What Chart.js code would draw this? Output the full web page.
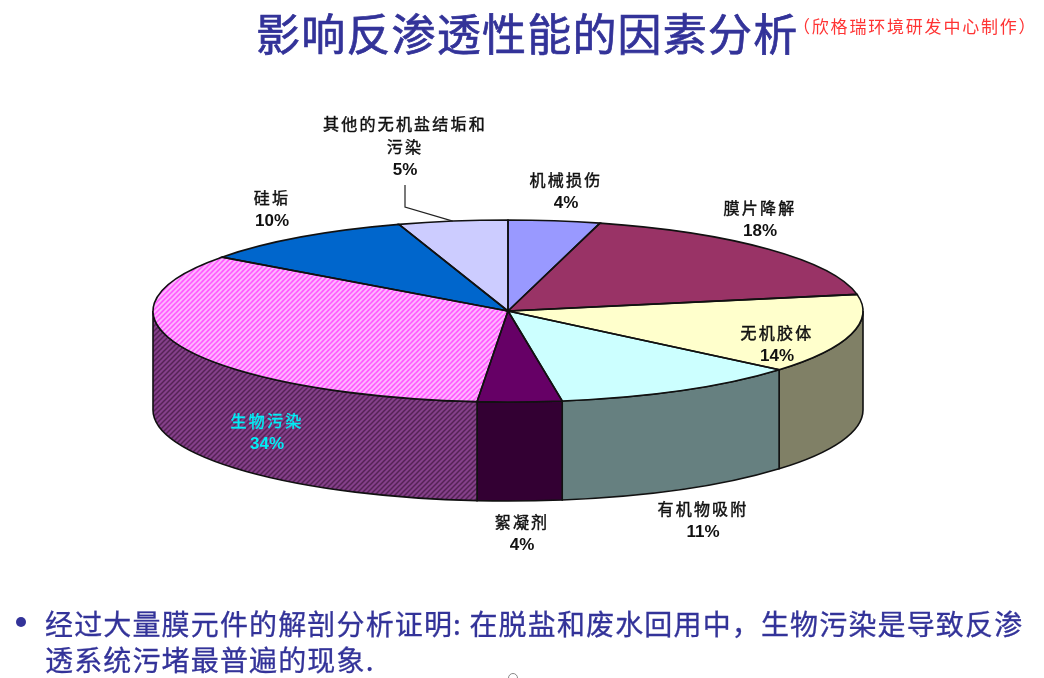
<!DOCTYPE html>
<html>
<head>
<meta charset="utf-8">
<script src="https://cdn.jsdelivr.net/npm/chart.js@4"></script>
<style>
  body { margin: 0; background: #fff; overflow: hidden; }
  #wrap { position: relative; width: 1044px; height: 678px; overflow: hidden; font-family: "Noto Sans CJK SC", sans-serif; }
  canvas { position: absolute; left: 0; top: 0; }
  .txt { position: absolute; white-space: nowrap; color: #333399; }
  #title { left: 256px; top: 1px; font-size: 44px; line-height: 62px; letter-spacing: 1.2px; -webkit-text-stroke: 0.7px #333399; }
  #note { left: 793px; top: 13px; font-size: 17px; line-height: 26px; color: #ff3333; letter-spacing: 1.8px; }
  #bullet1 { left: 45px; top: 604px; font-size: 28px; line-height: 38px; letter-spacing: 1.15px; -webkit-text-stroke: 0.3px #333399; }
  #bullet2 { left: 45px; top: 640px; font-size: 28px; line-height: 38px; letter-spacing: 1.15px; -webkit-text-stroke: 0.3px #333399; }
  #dot { position: absolute; left: 16px; top: 617px; width: 10px; height: 10px; border-radius: 50%; background: #333399; }
  #ring { position: absolute; left: 508px; top: 673px; width: 8px; height: 8px; border-radius: 50%; border: 1px solid #888; }
</style>
</head>
<body>
<div id="wrap">
  <canvas id="pie" width="1044" height="678"></canvas>
  <div class="txt" id="title">影响反渗透性能的因素分析</div>
  <div class="txt" id="note">（欣格瑞环境研发中心制作）</div>
  <div id="dot"></div>
  <div class="txt" id="bullet1">经过大量膜元件的解剖分析证明: 在脱盐和废水回用中，生物污染是导致反渗</div>
  <div class="txt" id="bullet2">透系统污堵最普遍的现象.</div>
  <div id="ring"></div>
</div>
<script>
// slice names and shares (printed labels are these rounded)
const sliceNames = ['机械损伤', '膜片降解', '无机胶体', '有机物吸附', '絮凝剂', '生物污染', '硅垢', '其他的无机盐结垢和\n污染'];
const sliceValues = [4.17, 17.91, 14.09, 11.39, 3.83, 33.69, 9.95, 4.97];

const topColors = ['#9999FF', '#993366', '#FFFFCC', '#CCFFFF', '#660066', '#FF66FF', '#0066CC', '#CCCCFF'];
const wallColors = ['#666699', '#662244', '#808066', '#668080', '#330033', '#803380', '#003366', '#666680'];
const labelColors = ['#111', '#111', '#111', '#111', '#111', '#00EEF5', '#111', '#111'];

// pie shape on the page
const radius = 355;
const tilt = 91 / 355;
const depth = 99;

// label text centres (first line)
const labelSpots = [[566, 180], [760, 208], [777, 333], [703, 509], [522, 522], [267, 421], [272, 198], [405, 124]];
const leaderTop = [405, 185];
const leaderKnee = [405, 207];

const stripes = (base, line, width) => {
    const tile = document.createElement('canvas');
    tile.width = tile.height = 5;
    const t = tile.getContext('2d');
    t.fillStyle = base;
    t.fillRect(0, 0, 5, 5);
    t.strokeStyle = line;
    t.lineWidth = width;
    [[-1, 6, 6, -1], [-6, 6, 6, -6], [-1, 11, 11, -1]].forEach(([a, b, c, d]) => {
        t.beginPath();
        t.moveTo(a, b);
        t.lineTo(c, d);
        t.stroke();
    });
    return tile;
};

const patternFor = (ctx, base, line, width, squash) => {
    const p = ctx.createPattern(stripes(base, line, width), 'repeat');
    if (squash) p.setTransform(new DOMMatrix().scale(1, 1 / tilt));
    return p;
};

const ctx = document.getElementById('pie').getContext('2d');
const hatchTop = patternFor(ctx, '#FF55FF', '#FFC4FF', 1.7, true);
const hatchWall = patternFor(ctx, '#85408A', '#552255', 1.5, false);

const fills = topColors.map((c, i) => (i === 5 ? hatchTop : c));
const walls = wallColors.map((c, i) => (i === 5 ? hatchWall : c));

const pie3d = {
    id: 'pie3d',
    beforeDatasetsDraw(chart) {
        const c = chart.ctx;
        const arcs = chart.getDatasetMeta(0).data;
        const { x, y } = arcs[0];
        c.save();
        c.lineWidth = 1.6;
        c.strokeStyle = '#111';
        // side wall, only the half that faces us
        arcs.forEach((arc, i) => {
            const a = Math.max(arc.startAngle, 0);
            const b = Math.min(arc.endAngle, Math.PI);
            if (a >= b) return;
            c.beginPath();
            c.ellipse(x, y, radius, radius * tilt, 0, a, b);
            c.ellipse(x, y + depth, radius, radius * tilt, 0, b, a, true);
            c.closePath();
            c.fillStyle = walls[i];
            c.fill();
            c.stroke();
        });
        c.restore();
        c.save();
        c.translate(x, y);
        c.scale(1, tilt);
        c.translate(-x, -y);
    },
    afterDatasetsDraw(chart) {
        const c = chart.ctx;
        c.restore();
        const arcs = chart.getDatasetMeta(0).data;
        const { x, y } = arcs[0];
        c.save();
        c.lineWidth = 1.6;
        c.strokeStyle = '#111';
        arcs.forEach((arc) => {
            c.beginPath();
            c.moveTo(x, y);
            c.ellipse(x, y, radius, radius * tilt, 0, arc.startAngle, arc.endAngle);
            c.closePath();
            c.stroke();
        });

        // leader line to the last slice
        const last = arcs[arcs.length - 1];
        const mid = (last.startAngle + last.endAngle) / 2;
        c.strokeStyle = '#222';
        c.lineWidth = 1.2;
        c.beginPath();
        c.moveTo(leaderTop[0], leaderTop[1]);
        c.lineTo(leaderKnee[0], leaderKnee[1]);
        c.lineTo(x + radius * Math.cos(mid), y + radius * tilt * Math.sin(mid));
        c.stroke();

        // labels
        c.textAlign = 'center';
        c.textBaseline = 'middle';
        sliceNames.forEach((name, i) => {
            const [lx, ly] = labelSpots[i];
            const lines = name.split('\n');
            c.fillStyle = labelColors[i];
            c.strokeStyle = labelColors[i];
            c.lineWidth = 0.45;
            c.font = '16px "Noto Sans CJK SC"';
            c.letterSpacing = '2.2px';
            lines.forEach((line, j) => {
                c.fillText(line, lx, ly + j * 23);
                c.strokeText(line, lx, ly + j * 23);
            });
            c.font = 'bold 17px "Liberation Sans"';
            c.letterSpacing = '0px';
            c.fillText(Math.round(sliceValues[i]) + '%', lx, ly + lines.length * 23);
        });
        c.restore();
    }
};

new Chart(ctx, {
    type: 'pie',
    data: {
        labels: sliceNames,
        datasets: [{
            data: sliceValues,
            backgroundColor: fills,
            borderWidth: 0,
            clip: false
        }]
    },
    options: {
        responsive: false,
        animation: false,
        radius: radius,
        layout: { padding: { left: 0, right: 28, top: 0, bottom: 56 } },
        plugins: {
            legend: { display: false },
            tooltip: { enabled: false }
        }
    },
    plugins: [pie3d]
});
</script>
</body>
</html>
